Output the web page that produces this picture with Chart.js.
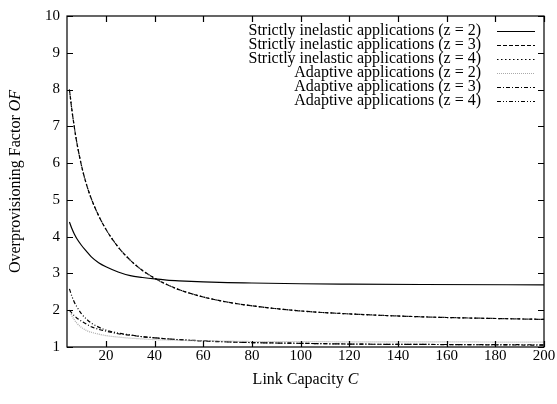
<!DOCTYPE html>
<html>
<head>
<meta charset="utf-8">
<script src="https://cdn.jsdelivr.net/npm/chart.js@4.4.0/dist/chart.umd.min.js"></script>
<style>
  body { margin: 0; background: #fff; }
  canvas { display: block; }
</style>
</head>
<body>
<canvas id="chart" width="557" height="404"></canvas>
<script>
// Link capacity values (x) shared by all curves
const capacity = [5, 6, 7, 8, 10, 12, 14, 17, 20, 25, 30, 35, 40, 45, 50, 60, 70, 80, 100, 120, 150, 200];

// Overprovisioning factor per curve
const strictZ2 = [4.40, 4.22, 4.07, 3.95, 3.76, 3.60, 3.45, 3.29, 3.18, 3.04, 2.94, 2.89, 2.85, 2.82, 2.80, 2.77, 2.75, 2.74, 2.72, 2.71, 2.70, 2.69];
const strictZ3 = [8.00, 7.45, 6.98, 6.57, 5.92, 5.42, 5.03, 4.57, 4.20, 3.72, 3.36, 3.08, 2.87, 2.70, 2.56, 2.36, 2.22, 2.12, 1.98, 1.90, 1.82, 1.75];
const strictZ4 = [8.00, 7.45, 6.98, 6.57, 5.92, 5.42, 5.03, 4.57, 4.20, 3.72, 3.36, 3.08, 2.87, 2.70, 2.56, 2.36, 2.22, 2.12, 1.98, 1.90, 1.82, 1.75];
const adaptiveZ2 = [2.00, 1.85, 1.74, 1.65, 1.53, 1.45, 1.40, 1.35, 1.31, 1.27, 1.24, 1.22, 1.20, 1.19, 1.18, 1.17, 1.16, 1.15, 1.15, 1.14, 1.14, 1.13];
const adaptiveZ3 = [2.00, 1.92, 1.85, 1.79, 1.70, 1.62, 1.55, 1.48, 1.43, 1.36, 1.32, 1.28, 1.25, 1.22, 1.20, 1.16, 1.14, 1.12, 1.10, 1.08, 1.07, 1.05];
const adaptiveZ4 = [2.58, 2.38, 2.22, 2.10, 1.90, 1.76, 1.65, 1.54, 1.46, 1.38, 1.33, 1.28, 1.25, 1.22, 1.20, 1.17, 1.14, 1.12, 1.10, 1.08, 1.07, 1.06];

const seriesLabels = [
    'Strictly inelastic applications (z = 2)',
    'Strictly inelastic applications (z = 3)',
    'Strictly inelastic applications (z = 4)',
    'Adaptive applications (z = 2)',
    'Adaptive applications (z = 3)',
    'Adaptive applications (z = 4)'
];

const xTicks = [20, 40, 60, 80, 100, 120, 140, 160, 180, 200];
const yTicks = [1, 2, 3, 4, 5, 6, 7, 8, 9, 10];

const FONT = "'Liberation Serif', 'Times New Roman', serif";

function toPoints(values) {
    return capacity.map((c, i) => ({ x: c, y: values[i] }));
}

const styles = [
    { color: '#000', dash: [] },
    { color: '#000', dash: [4, 2] },
    { color: '#000', dash: [1.5, 2.5] },
    { color: '#aaa', dash: [1, 1] },
    { color: '#000', dash: [4, 2, 1, 2] },
    { color: '#000', dash: [4, 2, 1, 2, 1, 2] }
];

const allValues = [strictZ2, strictZ3, strictZ4, adaptiveZ2, adaptiveZ3, adaptiveZ4];

const datasets = allValues.map((vals, i) => ({
    label: seriesLabels[i],
    data: toPoints(vals),
    borderColor: styles[i].color,
    borderDash: styles[i].dash,
    borderWidth: 1.2,
    pointRadius: 0,
    fill: false,
    cubicInterpolationMode: 'monotone'
}));

// frame, inward ticks, axis titles and legend in gnuplot style
const decor = {
    id: 'decor',
    afterDraw(chart) {
        const { ctx, chartArea: a, scales: { x, y } } = chart;
        ctx.save();
        ctx.strokeStyle = '#000';
        ctx.lineWidth = 1.2;
        ctx.setLineDash([]);
        ctx.strokeRect(a.left, a.top, a.right - a.left, a.bottom - a.top);

        ctx.beginPath();
        xTicks.forEach(v => {
            const px = Math.round(x.getPixelForValue(v)) + 0.5;
            ctx.moveTo(px, a.bottom); ctx.lineTo(px, a.bottom - 6);
            ctx.moveTo(px, a.top); ctx.lineTo(px, a.top + 6);
        });
        yTicks.forEach(v => {
            const py = Math.round(y.getPixelForValue(v)) + 0.5;
            ctx.moveTo(a.left, py); ctx.lineTo(a.left + 6, py);
            ctx.moveTo(a.right, py); ctx.lineTo(a.right - 6, py);
        });
        ctx.stroke();

        // axis titles with italic symbols
        ctx.fillStyle = '#000';
        ctx.textBaseline = 'middle';
        const plain = '16px ' + FONT;
        const ital = 'italic 16px ' + FONT;

        ctx.font = plain;
        const xa = 'Link Capacity ';
        const w1 = ctx.measureText(xa).width;
        ctx.font = ital;
        const w2 = ctx.measureText('C').width;
        let sx = (a.left + a.right) / 2 - (w1 + w2) / 2;
        ctx.textAlign = 'left';
        ctx.font = plain;
        ctx.fillText(xa, sx, 380);
        ctx.font = ital;
        ctx.fillText('C', sx + w1, 380);

        ctx.save();
        ctx.translate(16, (a.top + a.bottom) / 2);
        ctx.rotate(-Math.PI / 2);
        ctx.font = plain;
        const ya = 'Overprovisioning Factor ';
        const v1 = ctx.measureText(ya).width;
        ctx.font = ital;
        const v2 = ctx.measureText('OF').width;
        sx = -(v1 + v2) / 2;
        ctx.font = plain;
        ctx.fillText(ya, sx, 0);
        ctx.font = ital;
        ctx.fillText('OF', sx + v1, 0);
        ctx.restore();

        // legend
        ctx.font = plain;
        ctx.textAlign = 'right';
        datasets.forEach((ds, i) => {
            const ly = 31 + i * 14;
            ctx.fillStyle = '#000';
            ctx.fillText(ds.label, 481, ly);
            ctx.strokeStyle = ds.borderColor;
            ctx.setLineDash(ds.borderDash);
            ctx.beginPath();
            ctx.moveTo(497, Math.round(ly) + 0.5);
            ctx.lineTo(535, Math.round(ly) + 0.5);
            ctx.stroke();
        });
        ctx.restore();
    }
};

new Chart(document.getElementById('chart'), {
    type: 'line',
    data: { datasets },
    options: {
        responsive: false,
        animation: false,
        devicePixelRatio: 1,
        layout: { padding: { top: 13, right: 13, left: 0, bottom: 0 } },
        plugins: { legend: { display: false }, tooltip: { enabled: false } },
        scales: {
            x: {
                type: 'linear',
                min: 4,
                max: 200,
                afterBuildTicks: s => { s.ticks = xTicks.map(v => ({ value: v })); },
                afterFit: s => { s.height = 57; },
                grid: { display: false, drawTicks: false },
                border: { display: false },
                ticks: { color: '#000', font: { family: FONT, size: 15 }, padding: 0, maxRotation: 0 }
            },
            y: {
                type: 'linear',
                min: 1,
                max: 10,
                afterBuildTicks: s => { s.ticks = yTicks.map(v => ({ value: v })); },
                afterFit: s => { s.width = 67; },
                grid: { display: false, drawTicks: false },
                border: { display: false },
                ticks: { color: '#000', font: { family: FONT, size: 15 }, padding: 7 }
            }
        }
    },
    plugins: [decor]
});
</script>
</body>
</html>
